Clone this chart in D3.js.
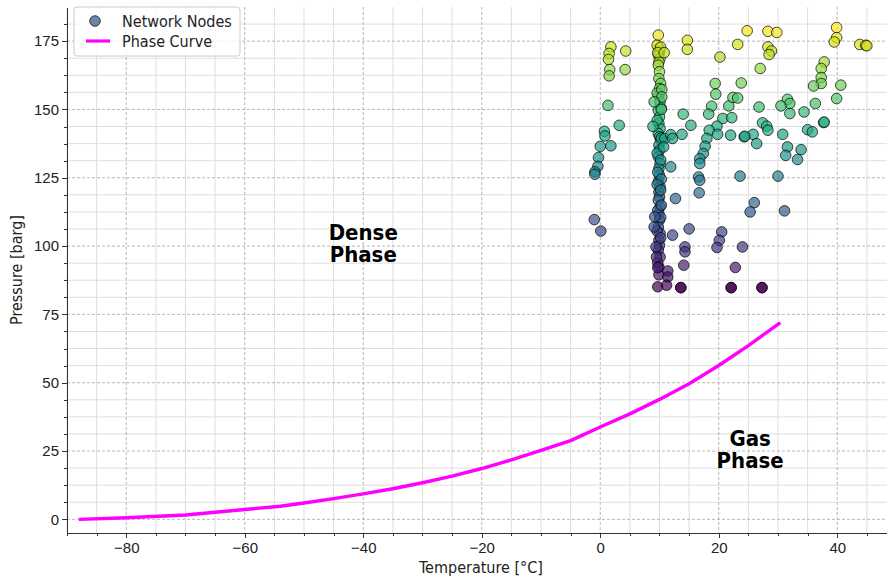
<!DOCTYPE html>
<meta charset="utf-8">
<title>Phase diagram</title>
<style>

body {
  margin: 0;
  background: #fff;
}

svg {
  font-family: "DejaVu Sans Condensed", "DejaVu Sans", sans-serif;
  font-stretch: condensed;
}

.axis path, .axis line {
  stroke: #333;
  shape-rendering: crispEdges;
}

.axis text {
  fill: #222;
  font-size: 15px;
}

.grid-major line {
  stroke: #b0b0b0;
  stroke-dasharray: 3,2;
  stroke-width: 0.9;
}

.grid-minor line {
  stroke: #dedede;
  stroke-width: 1;
}

.label {
  font-size: 16px;
  fill: #222;
}

.phase-text {
  font-size: 22px;
  font-weight: bold;
  fill: #000;
}

</style>
<body>
<script src="https://d3js.org/d3.v7.min.js"></script>
<script>

// network nodes: temperature [°C] and pressure [barg]
var nodeTemp = [
  1.8, 1.5, 1.4, 4.3, 4.2, 1.6, 1.5, 1.3, 3.2, 0.7, 0.8, 0.0, 1.8, -0.3, -0.4, -0.9, -0.9, -1.0, 0.1,
  9.8, 9.9, 10.0, 9.8, 10.1, 9.9, 9.8, 10.0, 9.9, 10.2, 10.0, 9.9, 10.1, 9.8, 10.0, 9.9, 10.1, 9.8, 10.0, 10.2,
  9.9, 10.0, 9.8, 10.1, 9.9, 10.0, 9.8, 10.1, 9.9, 10.0, 9.8, 10.1, 9.9, 10.0, 9.8, 10.1, 9.9, 10.0, 9.8, 10.1, 9.9, 9.7,
  9.6, 10.2, 9.7, 9.6, 10.3, 9.6, 10.3, 9.6, 10.2, 9.7, 10.3, 9.6, 10.2, 9.7, 10.2, 9.6, 10.2, 9.7, 9.9,
  10.8, 10.4, 10.4, 9.1, 10.3, 8.9, 10.9, 11.9, 12.2, 10.7, 11.9, 12.7, 9.2, 9.1, 12.2, 9.4, 11.4, 11.4, 11.2, 10.3, 9.5, 9.7,
  14.7, 14.7, 20.2, 14.0, 15.3, 13.8, 19.4, 19.5, 18.8, 18.3, 21.7, 22.4, 20.7, 22.2, 19.7, 18.4, 19.8, 18.0, 17.7, 17.4,
  16.8, 22.0, 16.8, 16.6, 16.8, 16.7, 15.0, 14.3, 14.3, 14.1, 20.5, 20.1, 19.7, 22.8, 13.6, 13.6, 22.1, 22.1,
  24.8, 28.3, 29.8, 23.2, 28.3, 28.9, 28.5, 39.9, 39.9, 39.5, 43.8, 44.8, 45.0, 37.8, 37.3, 37.3, 37.3, 36.0, 40.6, 27.0,
  23.8, 23.2, 39.9, 36.3, 31.6, 32.0, 30.5, 26.8, 32.0, 34.4, 37.7, 37.8, 27.4, 28.1, 28.3, 35.0, 35.8, 30.8, 25.8, 24.3,
  24.4, 26.4, 31.6, 33.9, 31.3, 33.3, 23.6, 30.0, 26.0, 25.3, 31.1, 24.0, 27.3, 27.3
];

var nodePress = [
  172.9, 170.5, 168.3, 171.4, 164.6, 164.6, 162.3, 151.5, 144.2, 142.0, 140.3, 136.5, 136.7, 132.4, 129.2, 127.2, 126.3, 109.7, 105.5,
  177.2, 172.3, 171.1, 169.9, 168.6, 167.4, 166.2, 163.8, 161.3, 159.5, 157.7, 155.2, 152.8, 149.7, 147.3, 144.9, 143.0, 141.2, 140.0, 138.8,
  136.9, 135.1, 132.7, 130.2, 128.4, 125.9, 123.5, 121.7, 119.8, 118.0, 116.8, 114.4, 111.9, 109.5, 107.0, 104.6, 102.2, 100.3, 98.5, 96.0, 92.4, 85.1,
  173.5, 172.8, 170.8, 156.0, 150.5, 146.0, 139.5, 134.0, 131.5, 127.0, 124.5, 122.5, 120.5, 113.0, 110.5, 105.5, 103.0, 94.0, 89.5,
  170.8, 157.3, 154.6, 152.8, 150.0, 143.8, 139.4, 140.8, 139.4, 136.3, 129.0, 117.4, 110.7, 107.0, 104.0, 99.7, 90.9, 88.7, 85.7, 115.0, 96.0, 92.1,
  175.3, 172.0, 169.2, 148.3, 144.2, 140.9, 159.5, 155.6, 151.2, 148.3, 151.3, 154.4, 146.7, 147.0, 143.9, 142.4, 140.9, 139.4, 136.5, 133.9,
  132.0, 140.6, 130.2, 125.3, 124.1, 119.5, 106.3, 99.7, 97.9, 93.0, 105.2, 102.1, 99.5, 92.2, 84.8, 84.8, 84.8, 84.8,
  178.8, 178.6, 178.2, 173.8, 172.9, 171.4, 170.1, 180.0, 176.3, 174.7, 173.8, 173.5, 173.3, 167.4, 165.0, 161.7, 159.5, 158.6, 158.9, 165.0,
  159.7, 154.2, 154.0, 152.2, 153.7, 152.2, 151.3, 150.9, 148.5, 149.1, 145.2, 145.4, 145.1, 143.9, 142.4, 142.6, 141.8, 140.9, 140.9, 140.0,
  140.2, 137.5, 136.3, 135.3, 133.2, 131.7, 125.6, 125.6, 115.9, 112.5, 112.9, 99.7, 84.8, 84.8
];

// CO2 saturation line
var curveTemp  = [-88, -80, -70, -60, -54, -50, -45, -40, -35, -30, -25, -20, -15, -10, -5, 0, 5, 10, 15, 20, 25, 30.4];
var curvePress = [0.0, 0.6, 1.6, 3.6, 4.8, 6.0, 7.6, 9.3, 11.2, 13.4, 15.8, 18.6, 21.8, 25.2, 28.8, 33.8, 38.6, 43.9, 49.6, 56.3, 63.6, 72.0];

var xMajor = [-80, -60, -40, -20, 0, 20, 40];
var yMajor = [0, 25, 50, 75, 100, 125, 150, 175];
var xMinorStep = 5, yMinorStep = 6.25;

var width = 887, height = 581;
var plot = {left: 67, right: 895, top: 7, bottom: 533};

var x = d3.scaleLinear().domain([-90, 49.75]).range([plot.left, plot.right]);
var y = d3.scaleLinear().domain([-5, 187.5]).range([plot.bottom, plot.top]);
var color = d3.scaleSequential(d3.interpolateViridis).domain([84.8, 180]);

var xMinor = d3.range(-90, 50, xMinorStep).filter(function(v) { return xMajor.indexOf(v) < 0; });
var yMinor = d3.range(0, 187.5, yMinorStep).filter(function(v) { return v % 25 !== 0; });

var svg = d3.select("body").append("svg")
    .attr("width", width)
    .attr("height", height);

svg.append("defs").append("clipPath")
    .attr("id", "clip")
  .append("rect")
    .attr("x", plot.left)
    .attr("y", plot.top)
    .attr("width", plot.right - plot.left)
    .attr("height", plot.bottom - plot.top);

// grids
var gMinor = svg.append("g").attr("class", "grid-minor");
gMinor.selectAll(".vx").data(xMinor).enter().append("line")
    .attr("x1", x).attr("x2", x)
    .attr("y1", plot.top).attr("y2", plot.bottom);
gMinor.selectAll(".hy").data(yMinor).enter().append("line")
    .attr("x1", plot.left).attr("x2", plot.right)
    .attr("y1", y).attr("y2", y);

var gMajor = svg.append("g").attr("class", "grid-major");
gMajor.selectAll(".vx").data(xMajor).enter().append("line")
    .attr("x1", x).attr("x2", x)
    .attr("y1", plot.top).attr("y2", plot.bottom);
gMajor.selectAll(".hy").data(yMajor).enter().append("line")
    .attr("x1", plot.left).attr("x2", plot.right)
    .attr("y1", y).attr("y2", y);

// nodes
var nodes = nodeTemp.map(function(t, i) { return {t: t, p: nodePress[i]}; });

svg.append("g")
    .attr("clip-path", "url(#clip)")
  .selectAll(".dot")
    .data(nodes)
  .enter().append("circle")
    .attr("class", "dot")
    .attr("r", 5.3)
    .attr("cx", function(d) { return x(d.t); })
    .attr("cy", function(d) { return y(d.p); })
    .style("fill", function(d) { return color(d.p); })
    .style("fill-opacity", 0.7)
    .style("stroke", "#000")
    .style("stroke-opacity", 0.7)
    .style("stroke-width", 1);

// phase curve
var curve = curveTemp.map(function(t, i) { return [t, curvePress[i]]; });
var line = d3.line()
    .x(function(d) { return x(d[0]); })
    .y(function(d) { return y(d[1]); });

svg.append("path")
    .datum(curve)
    .attr("clip-path", "url(#clip)")
    .attr("d", line)
    .style("fill", "none")
    .style("stroke", "#ff00ff")
    .style("stroke-width", 3.4)
    .style("stroke-linejoin", "round");

// axes
var xAxis = d3.axisBottom(x).tickValues(xMajor).tickSize(5).tickPadding(4).tickFormat(d3.format("d"));
var yAxis = d3.axisLeft(y).tickValues(yMajor).tickSize(5).tickPadding(3);

svg.append("g")
    .attr("class", "x axis")
    .attr("transform", "translate(0," + plot.bottom + ")")
    .call(d3.axisBottom(x).tickValues(xMinor).tickSize(3).tickFormat(""))
    .call(function(g) { g.select(".domain").remove(); });

svg.append("g")
    .attr("class", "y axis")
    .attr("transform", "translate(" + plot.left + ",0)")
    .call(d3.axisLeft(y).tickValues(yMinor).tickSize(3).tickFormat(""))
    .call(function(g) { g.select(".domain").remove(); });

svg.append("g")
    .attr("class", "x axis")
    .attr("transform", "translate(0," + plot.bottom + ")")
    .call(xAxis.tickSizeOuter(0));

svg.append("g")
    .attr("class", "y axis")
    .attr("transform", "translate(" + plot.left + ",0)")
    .call(yAxis.tickSizeOuter(0));

svg.append("text")
    .attr("class", "label")
    .attr("x", (plot.left + plot.right) / 2)
    .attr("y", 573)
    .style("text-anchor", "middle")
    .text("Temperature [°C]");

svg.append("text")
    .attr("class", "label")
    .attr("transform", "translate(22," + ((plot.top + plot.bottom) / 2) + ") rotate(-90)")
    .style("text-anchor", "middle")
    .text("Pressure [barg]");

// region labels, two lines each
function phaseLabel(t, p, words) {
  var tx = svg.append("text")
      .attr("class", "phase-text")
      .attr("x", x(t))
      .attr("y", y(p))
      .style("text-anchor", "middle");
  words.forEach(function(w, i) {
    tx.append("tspan").attr("x", x(t)).attr("dy", i ? 22 : 0).text(w);
  });
}
phaseLabel(-40, 102.1, ["Dense", "Phase"]);
phaseLabel(25.3, 26.8, ["Gas", "Phase"]);

// legend
var legend = svg.append("g").attr("transform", "translate(74,7)");
legend.append("rect")
    .attr("width", 166)
    .attr("height", 49)
    .attr("rx", 3)
    .style("fill", "#fff")
    .style("fill-opacity", 0.8)
    .style("stroke", "#cccccc");
legend.append("circle")
    .attr("cx", 21).attr("cy", 14).attr("r", 5.3)
    .style("fill", "#3b5b8c").style("fill-opacity", 0.75)
    .style("stroke", "#000").style("stroke-opacity", 0.7);
legend.append("line")
    .attr("x1", 12).attr("x2", 36).attr("y1", 34).attr("y2", 34)
    .style("stroke", "#ff00ff").style("stroke-width", 3.2);
legend.append("text")
    .attr("class", "label")
    .attr("x", 48).attr("y", 19.5)
    .text("Network Nodes");
legend.append("text")
    .attr("class", "label")
    .attr("x", 48).attr("y", 40)
    .text("Phase Curve");

</script>
